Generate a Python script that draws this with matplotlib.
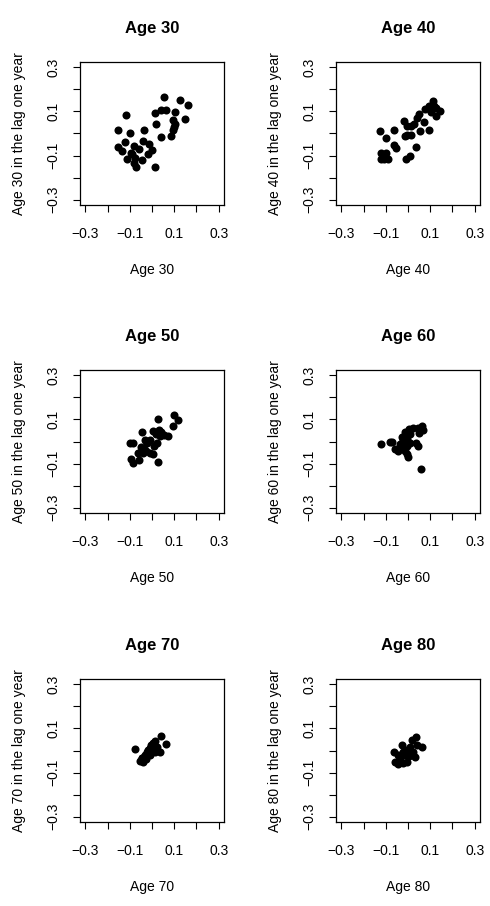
import numpy as np
import matplotlib.pyplot as plt

plt.rcParams['font.family'] = ['Liberation Sans', 'DejaVu Sans']

ages = [30, 40, 50, 60, 70, 80]

# values: (current year, lag one year)
x30 = [0.053, 0.126, 0.163, -0.117, 0.012, 0.041, 0.064, 0.105, 0.019, 0.095, 0.104, 0.148,
       0.093, 0.099, 0.084, 0.041, -0.151, -0.098, -0.037, -0.120, -0.151, -0.133, -0.083,
       -0.041, -0.012, -0.058, 0.001, -0.018, -0.092, -0.114, -0.077, -0.047, -0.081, -0.073,
       0.013, -0.096]
y30 = [0.164, 0.150, 0.128, 0.086, 0.093, 0.105, 0.105, 0.099, 0.044, 0.059, 0.044, 0.066,
       0.018, 0.030, -0.011, -0.017, 0.018, 0.003, 0.015, -0.039, -0.059, -0.078, -0.057,
       -0.035, -0.047, -0.072, -0.077, -0.095, -0.095, -0.117, -0.110, -0.119, -0.132, -0.150,
       -0.150, -0.087]

x40 = [0.113, 0.096, 0.116, 0.128, 0.143, 0.125, 0.103, 0.076, 0.049, 0.042, 0.028, 0.073,
       0.052, 0.094, -0.019, -0.004, 0.012, -0.003, 0.013, -0.013, -0.064, -0.124, -0.101,
       -0.063, -0.052, 0.036, -0.121, -0.099, -0.110, -0.122, -0.091, 0.009, -0.009, -0.107]
y40 = [0.146, 0.126, 0.126, 0.116, 0.101, 0.078, 0.096, 0.111, 0.089, 0.071, 0.045, 0.051,
       0.011, 0.014, 0.056, 0.033, 0.036, -0.009, -0.005, -0.012, 0.018, 0.011, -0.020,
       -0.054, -0.065, -0.062, -0.087, -0.090, -0.102, -0.117, -0.117, -0.102, -0.117, -0.117]

x50 = [0.098, 0.116, 0.093, 0.028, -0.044, 0.004, 0.031, 0.019, 0.034, 0.052, 0.071, -0.010,
       -0.033, -0.099, -0.084, 0.009, -0.022, -0.050, -0.037, -0.062, -0.040, -0.010, 0.004,
       -0.025, -0.096, -0.087, -0.059, 0.028, 0.024, 0.041]
y50 = [0.120, 0.096, 0.072, 0.101, 0.044, 0.048, 0.051, 0.033, 0.026, 0.030, 0.026, 0.006,
       0.006, -0.009, -0.009, -0.020, -0.005, -0.027, -0.035, -0.054, -0.054, -0.054, -0.057,
       -0.042, -0.080, -0.098, -0.084, -0.095, -0.005, 0.041]

x60 = [0.064, 0.069, 0.046, 0.024, 0.004, -0.013, 0.049, -0.122, -0.073, -0.081, -0.028,
       -0.006, -0.018, 0.009, 0.036, 0.046, -0.036, -0.058, -0.046, -0.028, -0.003, -0.006,
       0.001, -0.013, 0.057, -0.024, 0.009, -0.009]
y60 = [0.071, 0.051, 0.060, 0.060, 0.056, 0.045, 0.038, -0.012, 0.000, 0.000, 0.021, 0.011,
       0.000, -0.005, -0.005, -0.020, -0.012, -0.035, -0.045, -0.027, -0.020, -0.057, -0.072,
       -0.042, -0.123, 0.006, 0.033, -0.012]

x70 = [-0.077, 0.039, 0.061, 0.012, 0.004, 0.022, 0.034, -0.010, -0.022, -0.033, -0.047,
       -0.055, -0.040, -0.025, -0.007, 0.012, -0.003, -0.018, -0.043, -0.028]
y70 = [0.005, 0.065, 0.029, 0.044, 0.033, 0.018, -0.008, 0.011, -0.005, -0.020, -0.032,
       -0.047, -0.050, -0.038, -0.020, -0.005, 0.026, 0.003, -0.035, -0.027]

x80 = [0.036, 0.016, 0.061, 0.039, 0.033, -0.063, -0.028, -0.046, -0.057, -0.043, -0.021,
       -0.006, -0.013, 0.001, 0.009, -0.009, -0.024, 0.024, -0.036, 0.006]
y80 = [0.063, 0.048, 0.014, 0.026, -0.030, -0.008, 0.023, -0.020, -0.050, -0.062, -0.057,
       -0.050, -0.020, -0.005, 0.018, 0.003, -0.005, -0.005, -0.035, -0.027]

xs = [x30, x40, x50, x60, x70, x80]
ys = [y30, y40, y50, y60, y70, y80]

tick_pos = [-0.3, -0.2, -0.1, 0.0, 0.1, 0.2, 0.3]
tick_lab = ['\u22120.3', '', '\u22120.1', '', '0.1', '', '0.3']

W, H = 490, 906
fig = plt.figure(figsize=(W / 100, H / 100), dpi=100)

lefts = [80, 336]
tops = [62, 370, 679]
bw, bh = 144, 143

for i, age in enumerate(ages):
    r, c = divmod(i, 2)
    ax = fig.add_axes([lefts[c] / W, 1 - (tops[r] + bh) / H, bw / W, bh / H])
    ax.plot(xs[i], ys[i], 'o', color='black', markersize=5.8, markeredgewidth=0)
    ax.set_xlim(-0.324, 0.324)
    ax.set_ylim(-0.324, 0.324)
    ax.set_xticks(tick_pos)
    ax.set_xticklabels(tick_lab)
    ax.set_yticks(tick_pos)
    ax.set_yticklabels(tick_lab, rotation=90, va='center')
    ax.tick_params(direction='out', length=5, width=0.8, labelsize=10, colors='black')
    ax.tick_params(axis='x', pad=11)
    ax.tick_params(axis='y', pad=9)
    for s in ax.spines.values():
        s.set_linewidth(0.9)
    ax.set_title('Age %d' % age, fontsize=12, fontweight='bold', pad=21)
    ax.set_xlabel('Age %d' % age, fontsize=10, labelpad=16)
    ax.set_ylabel('Age %d in the lag one year' % age, fontsize=10, labelpad=15)

fig.savefig('out.png', dpi=100)
